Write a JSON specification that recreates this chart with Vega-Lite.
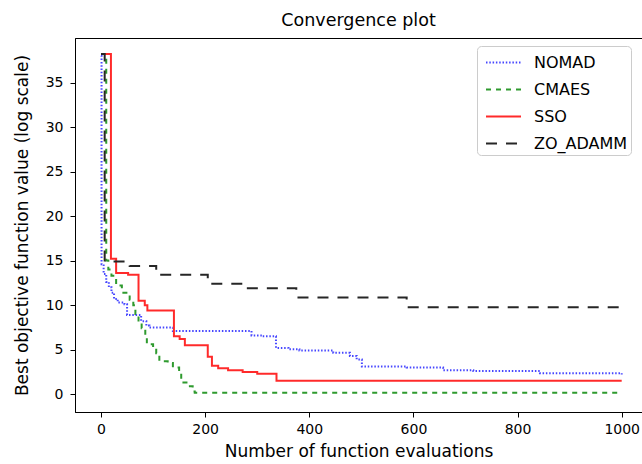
{
  "$schema": "https://vega.github.io/schema/vega-lite/v6.json",
  "width": 567,
  "height": 374,
  "autosize": {"type": "none"},
  "padding": {"left": 75, "top": 38, "right": 0, "bottom": 52},
  "title": {"text": "Convergence plot", "fontSize": 17.5, "fontWeight": "normal", "font": "DejaVu Sans", "offset": 9, "color": "black"},
  "data": {
    "values": [
      {"s": "NOMAD", "x": 0, "y": 38.0},
      {"s": "NOMAD", "x": 1, "y": 14.6},
      {"s": "NOMAD", "x": 5, "y": 13.5},
      {"s": "NOMAD", "x": 10, "y": 12.6},
      {"s": "NOMAD", "x": 15, "y": 12.0},
      {"s": "NOMAD", "x": 20, "y": 11.4},
      {"s": "NOMAD", "x": 25, "y": 10.7},
      {"s": "NOMAD", "x": 32, "y": 10.3},
      {"s": "NOMAD", "x": 45, "y": 10.1},
      {"s": "NOMAD", "x": 50, "y": 8.9},
      {"s": "NOMAD", "x": 77, "y": 8.2},
      {"s": "NOMAD", "x": 87, "y": 7.7},
      {"s": "NOMAD", "x": 93, "y": 7.5},
      {"s": "NOMAD", "x": 138, "y": 7.1},
      {"s": "NOMAD", "x": 289, "y": 6.6},
      {"s": "NOMAD", "x": 310, "y": 6.5},
      {"s": "NOMAD", "x": 336, "y": 5.2},
      {"s": "NOMAD", "x": 360, "y": 5.05},
      {"s": "NOMAD", "x": 381, "y": 4.9},
      {"s": "NOMAD", "x": 446, "y": 4.65},
      {"s": "NOMAD", "x": 478, "y": 4.3},
      {"s": "NOMAD", "x": 491, "y": 3.9},
      {"s": "NOMAD", "x": 501, "y": 3.1},
      {"s": "NOMAD", "x": 587, "y": 3.0},
      {"s": "NOMAD", "x": 657, "y": 2.7},
      {"s": "NOMAD", "x": 715, "y": 2.6},
      {"s": "NOMAD", "x": 843, "y": 2.35},
      {"s": "NOMAD", "x": 1000, "y": 2.2},
      {"s": "CMAES", "x": 0, "y": 38.2},
      {"s": "CMAES", "x": 10, "y": 15.0},
      {"s": "CMAES", "x": 14, "y": 14.0},
      {"s": "CMAES", "x": 20, "y": 13.3},
      {"s": "CMAES", "x": 29, "y": 12.2},
      {"s": "CMAES", "x": 40, "y": 11.4},
      {"s": "CMAES", "x": 55, "y": 10.6},
      {"s": "CMAES", "x": 62, "y": 10.0},
      {"s": "CMAES", "x": 66, "y": 9.0},
      {"s": "CMAES", "x": 72, "y": 8.0},
      {"s": "CMAES", "x": 78, "y": 7.4},
      {"s": "CMAES", "x": 85, "y": 6.6},
      {"s": "CMAES", "x": 88, "y": 5.6},
      {"s": "CMAES", "x": 100, "y": 5.3},
      {"s": "CMAES", "x": 106, "y": 4.6},
      {"s": "CMAES", "x": 112, "y": 3.7},
      {"s": "CMAES", "x": 128, "y": 3.5},
      {"s": "CMAES", "x": 138, "y": 3.0},
      {"s": "CMAES", "x": 150, "y": 2.4},
      {"s": "CMAES", "x": 154, "y": 1.3},
      {"s": "CMAES", "x": 167, "y": 0.9},
      {"s": "CMAES", "x": 176, "y": 0.3},
      {"s": "CMAES", "x": 180, "y": 0.15},
      {"s": "CMAES", "x": 1000, "y": 0.15},
      {"s": "SSO", "x": 0, "y": 38.2},
      {"s": "SSO", "x": 19, "y": 15.2},
      {"s": "SSO", "x": 29, "y": 13.6},
      {"s": "SSO", "x": 52, "y": 13.4},
      {"s": "SSO", "x": 72, "y": 10.5},
      {"s": "SSO", "x": 84, "y": 10.0},
      {"s": "SSO", "x": 89, "y": 9.4},
      {"s": "SSO", "x": 140, "y": 6.5},
      {"s": "SSO", "x": 151, "y": 6.2},
      {"s": "SSO", "x": 161, "y": 5.5},
      {"s": "SSO", "x": 205, "y": 4.2},
      {"s": "SSO", "x": 213, "y": 3.2},
      {"s": "SSO", "x": 225, "y": 2.9},
      {"s": "SSO", "x": 244, "y": 2.7},
      {"s": "SSO", "x": 272, "y": 2.5},
      {"s": "SSO", "x": 300, "y": 2.3},
      {"s": "SSO", "x": 337, "y": 1.5},
      {"s": "SSO", "x": 1000, "y": 1.5},
      {"s": "ZO_ADAMM", "x": 0, "y": 38.2},
      {"s": "ZO_ADAMM", "x": 7, "y": 14.9},
      {"s": "ZO_ADAMM", "x": 55, "y": 14.4},
      {"s": "ZO_ADAMM", "x": 106, "y": 13.4},
      {"s": "ZO_ADAMM", "x": 205, "y": 12.4},
      {"s": "ZO_ADAMM", "x": 279, "y": 11.9},
      {"s": "ZO_ADAMM", "x": 375, "y": 10.85},
      {"s": "ZO_ADAMM", "x": 587, "y": 9.75},
      {"s": "ZO_ADAMM", "x": 1000, "y": 9.75}
    ]
  },
  "mark": {"type": "line", "interpolate": "step-after", "strokeWidth": 2},
  "encoding": {
    "x": {
      "field": "x", "type": "quantitative",
      "scale": {"domain": [-50, 1039], "nice": false, "zero": false},
      "axis": {"values": [0, 200, 400, 600, 800, 1000], "format": "d", "title": "Number of function evaluations", "labelPadding": 5, "titlePadding": 7}
    },
    "y": {
      "field": "y", "type": "quantitative",
      "scale": {"domain": [-2, 40], "nice": false, "zero": false},
      "axis": {"values": [0, 5, 10, 15, 20, 25, 30, 35], "format": "d", "title": "Best objective function value (log scale)", "labelPadding": 7, "titlePadding": 14}
    },
    "color": {
      "field": "s", "type": "nominal", "title": null,
      "scale": {"domain": ["NOMAD", "CMAES", "SSO", "ZO_ADAMM"], "range": ["#4646ff", "#2e9a2e", "#ff2a2a", "#262626"]}
    },
    "strokeDash": {
      "field": "s", "type": "nominal", "title": null,
      "scale": {"domain": ["NOMAD", "CMAES", "SSO", "ZO_ADAMM"], "range": [[1.5, 1.8], [5, 5], [1, 0], [11, 9]]}
    }
  },
  "config": {
    "view": {"stroke": "black", "strokeWidth": 1},
    "axis": {
      "grid": false, "domainColor": "black", "tickColor": "black", "tickSize": 5,
      "labelFont": "DejaVu Sans", "labelFontSize": 14, "labelColor": "black",
      "titleFont": "DejaVu Sans", "titleFontSize": 17, "titleFontWeight": "normal", "titleColor": "black"
    },
    "legend": {
      "orient": "none", "legendX": 402, "legendY": 8,
      "fillColor": "white", "strokeColor": "#cccccc", "cornerRadius": 4, "padding": 3,
      "labelFont": "DejaVu Sans", "labelFontSize": 16, "labelColor": "black",
      "symbolType": "M-0.6,0H2.2", "symbolSize": 625, "symbolStrokeWidth": 2,
      "rowPadding": 5, "labelOffset": 27
    }
  }
}
